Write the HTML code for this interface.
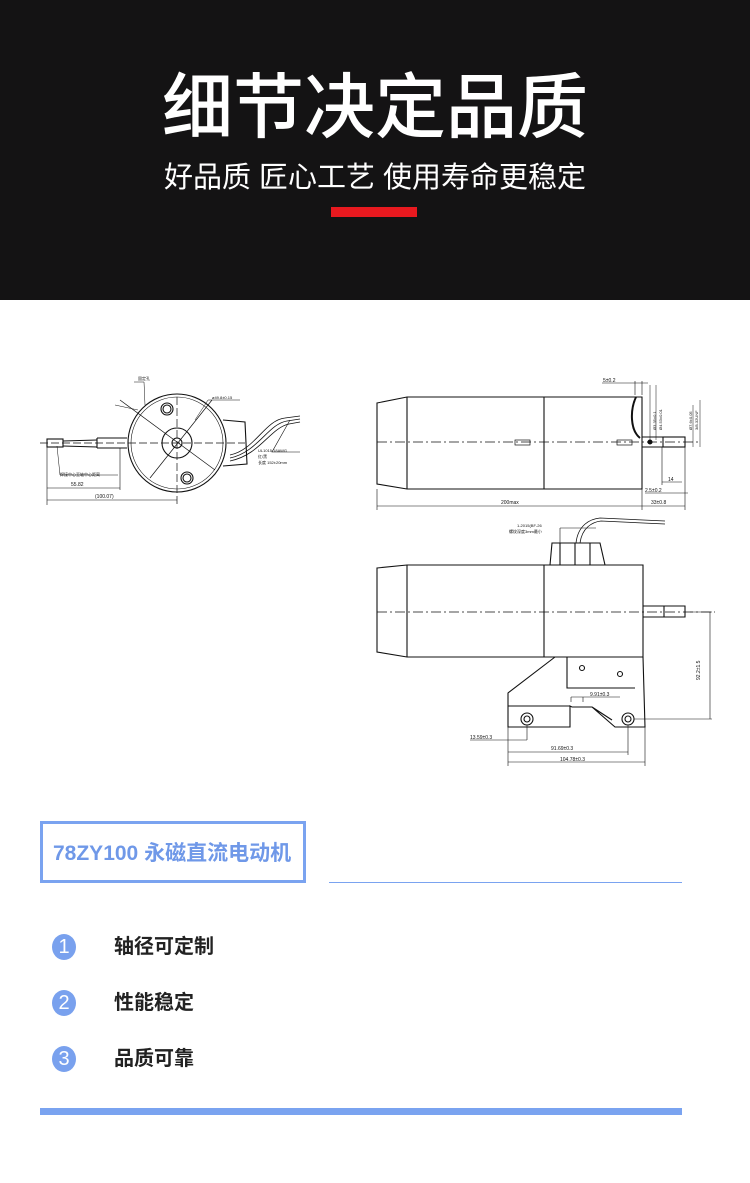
<!DOCTYPE html>
<html><head><meta charset="utf-8"><style>
html,body{margin:0;padding:0;background:#fff;}
body{width:750px;height:1183px;position:relative;overflow:hidden;font-family:"Liberation Sans","Noto Sans CJK SC",sans-serif;}
.hd{position:absolute;left:0;top:0;width:750px;height:300px;background:#141314;}
.t1{position:absolute;left:0;width:750px;text-align:center;color:#fff;}
.abs{position:absolute;}
</style></head><body>
<div class="hd">
<div class="t1" style="top:66px;font-size:71px;line-height:86px;font-weight:500;letter-spacing:0px;">细节决定品质</div>
<div class="t1" style="top:159px;font-size:29px;line-height:38px;">好品质 匠心工艺 使用寿命更稳定</div>
<div class="abs" style="left:331px;top:207px;width:86px;height:10px;background:#e8191f;"></div>
</div>

<svg class="abs" style="left:0;top:300px" width="750" height="480" viewBox="0 300 750 480" font-family="Liberation Sans, Noto Sans CJK SC, sans-serif" font-size="5" fill="none" stroke="#111" stroke-width="1.1">
<!-- left drawing -->
<circle cx="177" cy="443" r="49"/>
<circle cx="177" cy="443" r="46" stroke-width="0.6"/>
<circle cx="177" cy="443" r="15"/>
<circle cx="177" cy="443" r="5"/>
<circle cx="167" cy="409" r="6"/><circle cx="167" cy="409" r="4"/>
<circle cx="187" cy="478" r="6"/><circle cx="187" cy="478" r="4"/>
<line x1="120" y1="400" x2="215" y2="470" stroke-width="0.7"/>
<line x1="212" y1="400" x2="150" y2="478" stroke-width="0.7"/>
<line x1="177" y1="397" x2="177" y2="505" stroke-width="0.7" stroke-dasharray="8 3"/>
<line x1="40" y1="443" x2="245" y2="443" stroke-width="0.8" stroke-dasharray="8 3"/>
<path d="M223 420 L245 422 L247 464 L223 466"/>
<path d="M97 438 H127 M97 448 H127 M97 438 V448"/>
<path d="M63 441 L97 440 M63 446 L97 447"/>
<rect x="47" y="439" width="16" height="8"/>
<path d="M230 455 C255 450 265 420 285 418 L300 416 M230 458 C258 452 268 424 287 421 L300 419 M230 461 C260 455 270 428 289 424 L300 422" stroke-width="0.8"/>
<path d="M290 420 L272 452 H300" stroke-width="0.6"/>
<path d="M47 447 V505 M120 448 V490 M47 488 H120 M47 500 H177" stroke-width="0.6"/>
<path d="M57 446 L60 475 H118 M134 382 H144 L145 405 M115 405 L138 410 M208 400 L195 420 M208 400 H240" stroke-width="0.5"/>
<text x="71" y="486" stroke="none" fill="#111">55.82</text>
<text x="95" y="498" stroke="none" fill="#111">(100.07)</text>
<text x="60" y="476" stroke="none" fill="#111" font-size="4">焊接中心至轴中心距离</text>
<text x="138" y="380" stroke="none" fill="#111" font-size="4">固定孔</text>
<text x="212" y="399" stroke="none" fill="#111" font-size="4">ø49.8±0.15</text>
<text x="258" y="452" stroke="none" fill="#111" font-size="4">UL1015 18AWG</text>
<text x="258" y="458" stroke="none" fill="#111" font-size="4">红/黑</text>
<text x="258" y="464" stroke="none" fill="#111" font-size="4">长度 152±20mm</text>

<!-- right top -->
<path d="M377 403 L407 397 H642 V489 H407 L377 484 Z"/>
<line x1="407" y1="397" x2="407" y2="489"/>
<line x1="544" y1="397" x2="544" y2="489"/>
<line x1="377" y1="442" x2="700" y2="442" stroke-width="0.7" stroke-dasharray="10 3 2 3"/>
<path d="M636 397 C630 410 630 430 640 438" stroke-width="2"/>
<rect x="515" y="440" width="15" height="5" stroke-width="0.7"/>
<rect x="617" y="440" width="15" height="5" stroke-width="0.7"/>
<rect x="663" y="437" width="22" height="10"/>
<path d="M642 437 H663 M642 447 H663"/>
<circle cx="650" cy="442" r="2" fill="#111"/>
<path d="M377 489 V510 M642 489 V510 M685 447 V510 M377 506 H642 M642 506 H685 M662 447 V485 M662 482 H682 M645 493 H688 M635 381 V395 M642 381 V395 M602 383 H648" stroke-width="0.6"/>
<path d="M650 385 V440 M656 385 V440 M693 405 V447 M700 400 V447" stroke-width="0.5"/>
<text x="501" y="504" stroke="none" fill="#111">200max</text>
<text x="651" y="504" stroke="none" fill="#111">33±0.8</text>
<text x="645" y="492" stroke="none" fill="#111">2.5±0.2</text>
<text x="668" y="481" stroke="none" fill="#111">14</text>
<text x="603" y="382" stroke="none" fill="#111">5±0.2</text>
<text x="656" y="430" stroke="none" fill="#111" font-size="4" transform="rotate(-90 656 430)">Ø3.35±0.1</text>
<text x="662" y="430" stroke="none" fill="#111" font-size="4" transform="rotate(-90 662 430)">Ø4.53±0.01</text>
<text x="692" y="430" stroke="none" fill="#111" font-size="4" transform="rotate(-90 692 430)">Ø7.6±0.05</text>
<text x="698" y="430" stroke="none" fill="#111" font-size="4" transform="rotate(-90 698 430)">3/8-32UNF</text>

<!-- right bottom -->
<path d="M377 568 L407 565 H643 V657 H407 L377 652 Z"/>
<line x1="407" y1="565" x2="407" y2="657"/>
<line x1="544" y1="565" x2="544" y2="657"/>
<line x1="377" y1="612" x2="715" y2="612" stroke-width="0.7" stroke-dasharray="10 3 2 3"/>
<path d="M550 565 L552 543 H600 L605 565"/>
<path d="M560 543 V565 M575 543 V565 M590 543 V565" />
<path d="M576 543 C578 525 590 519 600 518 L665 521 M580 543 C582 528 592 522 601 521 L665 524" stroke-width="0.8"/>
<path d="M643 606 H685 V617 H643 M664 606 V617"/>
<path d="M555 657 L508 693 V727 H570 V706 L572 707 H592 L615 727 H645 L643 657 M567 657 V688 H635 M508 706 H570 M592 707 L612 720" />
<circle cx="527" cy="719" r="6"/><circle cx="527" cy="719" r="3"/>
<circle cx="628" cy="719" r="6"/><circle cx="628" cy="719" r="3"/>
<circle cx="582" cy="668" r="2.5"/><circle cx="620" cy="674" r="2.5"/>
<path d="M690 612 H712 M634 719 H712 M710 612 V719 M508 727 V766 M645 727 V766 M527 725 V740 M628 725 V755 M470 740 H527 M508 752 H628 M508 762 H645 M571 697 H620 M571 697 V702 M583 697 V702 M560 528 V545 M560 528 H596" stroke-width="0.6"/>
<text x="700" y="680" stroke="none" fill="#111" transform="rotate(-90 700 680)">92.2±1.5</text>
<text x="470" y="739" stroke="none" fill="#111">13.59±0.3</text>
<text x="551" y="750" stroke="none" fill="#111">91.69±0.3</text>
<text x="560" y="761" stroke="none" fill="#111">104.78±0.3</text>
<text x="590" y="696" stroke="none" fill="#111">9.91±0.3</text>
<text x="517" y="527" stroke="none" fill="#111" font-size="4">1-2015(BF-26</text>
<text x="509" y="533" stroke="none" fill="#111" font-size="4">螺纹深度3mm最小</text>
</svg>

<div class="abs" style="left:40px;top:821px;width:260px;height:56px;border:3px solid #7aa3f0;"></div>
<div class="abs" style="left:53px;top:840px;font-size:21px;line-height:28px;color:#6f98e8;font-weight:bold;">78ZY100 永磁直流电动机</div>
<div class="abs" style="left:329px;top:882px;width:353px;height:1px;background:#7aa3f0;"></div>

<div class="abs" style="left:52px;top:934px;width:24px;height:26px;border-radius:50%;background:#79a1ee;color:#fff;font-size:20px;line-height:26px;text-align:center;">1</div>
<div class="abs" style="left:114px;top:933px;font-size:20px;line-height:28px;font-weight:bold;color:#222;">轴径可定制</div>
<div class="abs" style="left:52px;top:990px;width:24px;height:26px;border-radius:50%;background:#79a1ee;color:#fff;font-size:20px;line-height:26px;text-align:center;">2</div>
<div class="abs" style="left:114px;top:989px;font-size:20px;line-height:28px;font-weight:bold;color:#222;">性能稳定</div>
<div class="abs" style="left:52px;top:1046px;width:24px;height:26px;border-radius:50%;background:#79a1ee;color:#fff;font-size:20px;line-height:26px;text-align:center;">3</div>
<div class="abs" style="left:114px;top:1045px;font-size:20px;line-height:28px;font-weight:bold;color:#222;">品质可靠</div>

<div class="abs" style="left:40px;top:1108px;width:642px;height:7px;background:#7aa3f0;"></div>
</body></html>
